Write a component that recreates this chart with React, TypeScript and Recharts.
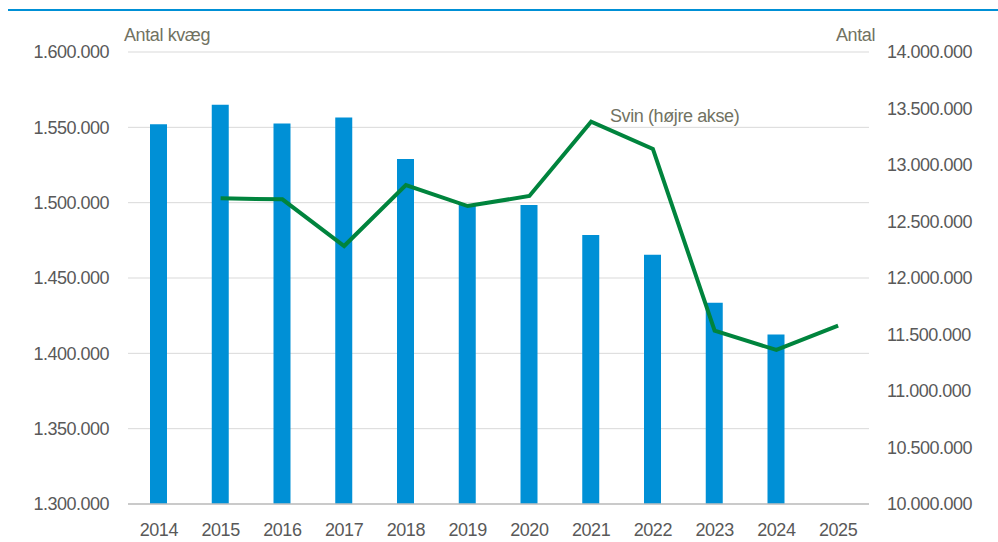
import {
  ComposedChart,
  Bar,
  Line,
  XAxis,
  YAxis,
  CartesianGrid,
} from 'recharts';

const years = ['2014', '2015', '2016', '2017', '2018', '2019', '2020', '2021', '2022', '2023', '2024', '2025'];
const kvaeg = [1552000, 1565000, 1552500, 1556500, 1529000, 1499000, 1498500, 1478500, 1465500, 1433500, 1412500, null];
const svin = [null, 12705000, 12696000, 12283000, 12823000, 12637000, 12726000, 13383000, 13142000, 11534000, 11363000, 11578000];
const leftTicks = [1300000, 1350000, 1400000, 1450000, 1500000, 1550000, 1600000];
const rightTicks = [10000000, 10500000, 11000000, 11500000, 12000000, 12500000, 13000000, 13500000, 14000000];

const data = years.map((year, i) => ({ year, kvaeg: kvaeg[i], svin: svin[i] }));

const fmt = (v: number) => v.toLocaleString('de-DE');

const font = '"Liberation Sans", Arial, sans-serif';
const tickStyle = { fill: '#595959', fontSize: 18, fontFamily: font, letterSpacing: -0.5 };
const titleStyle = {
  position: 'absolute' as const,
  top: 25,
  fontFamily: font,
  fontSize: 18,
  letterSpacing: -0.4,
  color: '#717262',
  whiteSpace: 'nowrap' as const,
};

export default function App() {
  return (
    <div style={{ position: 'absolute', left: 0, top: 0, width: 998, height: 542, background: '#fff' }}>
      <div style={{ position: 'absolute', left: 8, right: 0, top: 9, height: 2, background: '#0090d6' }} />
      <ComposedChart
        width={998}
        height={542}
        data={data}
        margin={{ top: 52, right: 0, bottom: 0, left: 0 }}
        barCategoryGap={0}
      >
        <CartesianGrid vertical={false} stroke="#d9d9d9" yAxisId="left" />
        <XAxis
          dataKey="year"
          height={38}
          tickLine={false}
          axisLine={{ stroke: '#bfbfbf', strokeWidth: 1.5 }}
          tickMargin={13}
          tick={tickStyle}
          interval={0}
        />
        <YAxis
          yAxisId="left"
          width={128}
          domain={[1300000, 1600000]}
          ticks={leftTicks}
          tickFormatter={fmt}
          axisLine={false}
          tickLine={false}
          tickMargin={13}
          tick={tickStyle}
          interval={0}
        />
        <YAxis
          yAxisId="right"
          orientation="right"
          width={129}
          domain={[10000000, 14000000]}
          ticks={rightTicks}
          tickFormatter={fmt}
          axisLine={false}
          tickLine={false}
          tickMargin={12}
          tick={tickStyle}
          interval={0}
        />
        <Bar yAxisId="left" dataKey="kvaeg" fill="#0090d6" barSize={17} isAnimationActive={false} />
        <Line
          yAxisId="right"
          dataKey="svin"
          stroke="#00843d"
          strokeWidth={4}
          dot={false}
          type="linear"
          isAnimationActive={false}
        />
      </ComposedChart>
      <div style={{ ...titleStyle, left: 124 }}>Antal kvæg</div>
      <div style={{ ...titleStyle, right: 998 - 875 }}>Antal</div>
      <div style={{ ...titleStyle, left: 610, top: 106 }}>Svin (højre akse)</div>
    </div>
  );
}
